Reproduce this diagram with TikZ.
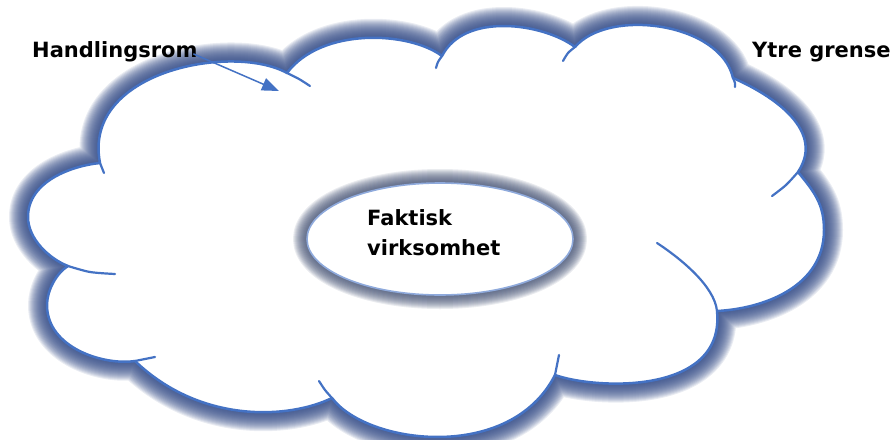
\documentclass[tikz,border=0pt]{standalone}
\usepackage{fontspec}
\setmainfont{DejaVu Sans}
\usetikzlibrary{arrows.meta}
\definecolor{cloudblue}{RGB}{68,114,196}
\definecolor{cloudglow}{RGB}{48,72,132}
\definecolor{ringblue}{RGB}{143,170,220}
\definecolor{ringglow}{RGB}{70,84,118}

% outline of the big cloud, one curve per bump
\def\cloudpath{(100,163)
  .. controls (82,71) and (233,43) .. (287,73)          % top left
  .. controls (321.4,27.1) and (408.9,31.2) .. (442,56)
  .. controls (464.4,11.8) and (543.3,23.2) .. (575,47)
  .. controls (608.7,7.6) and (720.6,22.7) .. (733,78)
  .. controls (763.1,91.1) and (827.9,126.9) .. (798,172) % right
  .. controls (814,191.6) and (824,203.7) .. (824,230)
  .. controls (824,287.5) and (762.3,308.7) .. (717,311)
  .. controls (725.5,395.8) and (594.5,389.3) .. (555,375) % bottom
  .. controls (510.6,462.8) and (367.1,444.8) .. (332,398)
  .. controls (289,419) and (200.7,424) .. (135,361)
  .. controls (104.6,365.7) and (47,348.3) .. (47,305)    % left
  .. controls (47,290.8) and (56,273.5) .. (68,266)
  .. controls (49.3,258.8) and (28,238.9) .. (28,217)
  .. controls (28,181.1) and (72,165.8) .. (100,163)
  -- cycle}
\def\ringpath{(440,239) ellipse [x radius=133, y radius=56]}

\begin{document}
\begin{tikzpicture}[x=1pt,y=-1pt,line cap=round,line join=round,
    lbl/.style={inner sep=0pt,anchor=base west,font=\fontsize{21}{30}\selectfont\bfseries},
    edge/.style={draw=cloudblue,line width=2.5pt},
    tail/.style={draw=cloudblue,line width=2.2pt},
    ring/.style={draw=ringblue,line width=1.6pt,fill=white}]
  \useasboundingbox (0,0) rectangle (893,439);

  % soft halo round the cloud
  \foreach \w in {2,4,...,38}
    \draw[cloudglow,draw opacity=0.1,line width=\w pt] \cloudpath;
  \fill[white] \cloudpath;
  \path[edge] \cloudpath;

  % bits of arcs running on inside the cloud
  \draw[tail] plot[smooth] coordinates {(287,73) (299,79) (310,86)};
  \draw[tail] plot[smooth] coordinates {(442,56) (438,62) (436,68)};
  \draw[tail] plot[smooth] coordinates {(575,47) (568,53) (563,61)};
  \draw[tail] plot[smooth] coordinates {(733,78) (735,83) (735,87)};
  \draw[tail] plot[smooth] coordinates {(798,172) (786,185) (772,196)};
  \draw[tail] (717,311) .. controls (714.5,286) and (680.5,258.4) .. (657,243);
  \draw[tail] plot[smooth] coordinates {(555,375) (557,365) (559,355)};
  \draw[tail] plot[smooth] coordinates {(332,398) (325,390) (319,381)};
  \draw[tail] plot[smooth] coordinates {(135,361) (145,359) (155,357)};
  \draw[tail] plot[smooth] coordinates {(68,266) (90,272) (115,274)};
  \draw[tail] plot[smooth] coordinates {(100,163) (102,168) (104,173)};

  % inner ellipse with its own halo
  \foreach \w in {2,4,...,28}
    \draw[ringglow,draw opacity=0.11,line width=\w pt] \ringpath;
  \path[ring] \ringpath;

  \node[lbl] (fakt) at (367,225) {Faktisk};
  \node[lbl] (virk) at (367,255) {virksomhet};
  \node[lbl] (hand) at (32,57) {Handlingsrom};
  \node[lbl] (ytre) at (752,57) {Ytre grense};

  \coordinate (handtip) at (279,91);
  \draw[cloudblue,line width=1.5pt,-{Triangle[length=17pt,width=13pt]}]
    ([xshift=-4pt,yshift=3pt]hand.base east) -- (handtip);
\end{tikzpicture}
\end{document}
